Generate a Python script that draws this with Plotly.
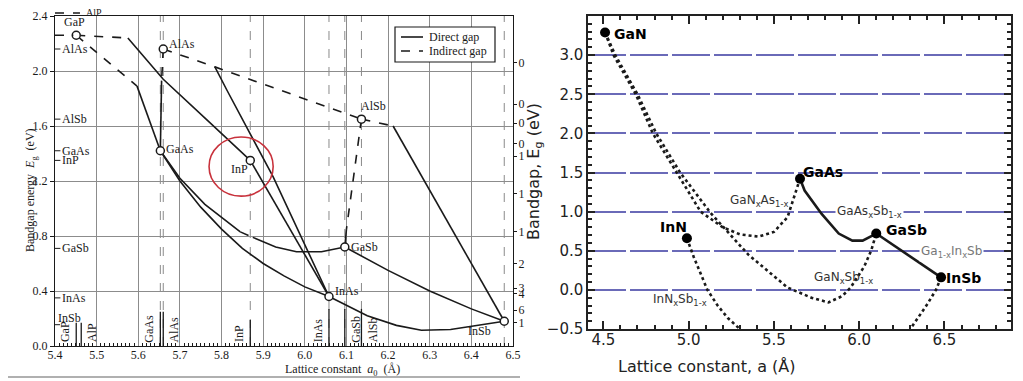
import plotly.graph_objects as go

# ---------------- data: left panel (III-V alloys) ----------------
mat_names = ["GaP", "AlAs", "GaAs", "InP", "AlSb", "GaSb", "InAs", "InSb"]
mat_a = [5.451, 5.660, 5.653, 5.869, 6.136, 6.096, 6.058, 6.479]
mat_eg = [2.26, 2.16, 1.42, 1.35, 1.65, 0.72, 0.36, 0.18]
alp_a, alp_eg = 5.467, 2.422

# direct-gap (solid) branches
dir_gap_gaas = ([5.597, 5.653], [1.89, 1.42])
dir_gap_inp = ([5.575, 5.66, 5.77, 5.869], [2.24, 1.94, 1.63, 1.35])
dir_alas_gaas = ([5.656, 5.653], [1.93, 1.42])
dir_alas_inas = ([5.784, 5.813, 5.924, 6.058], [2.03, 1.86, 1.23, 0.36])
dir_alsb_insb = ([6.212, 6.479], [1.60, 0.18])
dir_inp_inas = ([5.869, 6.058], [1.35, 0.36])
dir_gaas_inas = ([5.653, 5.70, 5.75, 5.80, 5.85, 5.90, 5.95, 6.00, 6.058],
                 [1.42, 1.20, 1.01, 0.85, 0.71, 0.60, 0.51, 0.43, 0.36])
dir_gaas_gasb_1 = ([5.653, 5.70, 5.76, 5.845], [1.42, 1.22, 1.03, 0.83])
dir_gaas_gasb_2 = ([5.875, 5.93, 5.98, 6.04, 6.096], [0.79, 0.72, 0.685, 0.685, 0.72])
dir_alsb_gasb = ([6.100, 6.096], [0.85, 0.72])
dir_inas_insb = ([6.058, 6.15, 6.22, 6.28, 6.35, 6.42, 6.479], [0.36, 0.22, 0.15, 0.115, 0.12, 0.15, 0.18])
dir_gasb_insb = ([6.096, 6.20, 6.30, 6.40, 6.479], [0.72, 0.55, 0.40, 0.27, 0.18])

# indirect-gap (dashed) branches
ind_gap_gaas = ([5.451, 5.597], [2.26, 1.89])
ind_gap_inp = ([5.451, 5.575], [2.26, 2.24])
ind_alas_gaas = ([5.660, 5.656], [2.16, 1.93])
ind_alas_alsb = ([5.660, 5.784, 6.136], [2.16, 2.03, 1.65])
ind_alsb_insb = ([6.136, 6.212], [1.65, 1.60])
ind_alsb_gasb = ([6.136, 6.100], [1.65, 0.85])
ind_gaas_gasb = ([5.845, 5.875], [0.83, 0.79])

# bottom lattice-constant markers
lat_names = ["GaP", "AlP", "GaAs", "AlAs", "InP", "InAs", "GaSb", "AlSb"]
lat_a = [5.451, 5.463, 5.653, 5.660, 5.869, 6.058, 6.096, 6.136]
dashed_lat_a = [5.653, 5.660, 5.869, 6.058, 6.096, 6.136, 6.479]

# truncated right-hand (wavelength) axis labels
wl_eg = [2.06, 1.76, 1.62, 1.47, 1.38, 1.11, 0.83, 0.60, 0.42, 0.38, 0.26, 0.17]
wl_text = ["0", "0", "0", "0", "1", "1", "1", "2", "3", "4", "6", "1"]

# legend entries
legend_names = ["Direct gap", "Indirect gap"]
legend_dash = ["solid", "dash"]

# ---------------- data: right panel (dilute nitrides) ----------------
r_names = ["GaN", "GaAs", "InN", "GaSb", "InSb"]
r_a = [4.51, 5.653, 4.99, 6.10, 6.48]
r_eg = [3.29, 1.42, 0.66, 0.72, 0.16]

ganas = ([4.51, 4.56, 4.69, 4.79, 4.93, 5.07, 5.20, 5.30, 5.41, 5.50, 5.58, 5.653],
         [3.29, 3.00, 2.50, 2.00, 1.50, 1.00, 0.80, 0.71, 0.68, 0.74, 0.93, 1.42])
gansb = ([4.51, 4.57, 4.70, 4.81, 4.95, 5.13, 5.35, 5.58, 5.72, 5.82, 5.90, 5.95, 6.03, 6.07, 6.10],
         [3.29, 3.00, 2.50, 2.00, 1.50, 0.98, 0.45, 0.03, -0.10, -0.16, -0.08, 0.03, 0.30, 0.50, 0.72])
gaassb = ([5.653, 5.68, 5.78, 5.88, 5.96, 6.02, 6.10], [1.42, 1.27, 0.97, 0.72, 0.63, 0.63, 0.72])
gainsb = ([6.10, 6.18, 6.26, 6.36, 6.48], [0.72, 0.60, 0.48, 0.33, 0.16])
innsb_1 = ([4.99, 5.03, 5.11, 5.17, 5.23, 5.30], [0.66, 0.42, 0.00, -0.20, -0.36, -0.50])
innsb_2 = ([6.48, 6.45, 6.40, 6.35, 6.30], [0.16, 0.00, -0.18, -0.34, -0.50])

# ---------------- layout geometry (screen pixels) ----------------
OFF = 8                       # page body margin of the browser
W, H = 1023 - OFF, 381 - OFF
LX0, LX1, LY0, LY1 = 55, 513, 16, 346
RX0, RX1, RY0, RY1 = 588, 1011, 16, 329
LXR, LYR = [5.4, 6.5], [0.0, 2.4]
RXR, RYR = [4.41, 6.89], [-0.5, 3.5]


def px(p):
    return (p - OFF) / W


def py(p):
    return 1 - (p - OFF) / H


def lpx(a):  # left panel data -> paper
    return px(LX0 + (a - LXR[0]) / (LXR[1] - LXR[0]) * (LX1 - LX0))


def lpy(e):
    return py(LY1 - (e - LYR[0]) / (LYR[1] - LYR[0]) * (LY1 - LY0))


SERIF = "Liberation Serif"
SANS = "DejaVu Sans"
INK = "#1a1a1a"

fig = go.Figure()


def seg(xy, dash, axes=("x", "y"), width=1.6):
    fig.add_trace(go.Scatter(x=xy[0], y=xy[1], mode="lines", xaxis=axes[0], yaxis=axes[1],
                             line=dict(color=INK, width=width, dash=dash),
                             showlegend=False, hoverinfo="skip"))


for s in [dir_gap_gaas, dir_gap_inp, dir_alas_gaas, dir_alas_inas, dir_alsb_insb, dir_inp_inas,
          dir_gaas_inas, dir_gaas_gasb_1, dir_gaas_gasb_2, dir_alsb_gasb, dir_inas_insb, dir_gasb_insb]:
    seg(s, "solid")
for s in [ind_gap_gaas, ind_gap_inp, ind_alas_gaas, ind_alas_alsb, ind_alsb_insb, ind_alsb_gasb,
          ind_gaas_gasb]:
    seg(s, "dash")

# material points (open circles)
fig.add_trace(go.Scatter(x=mat_a, y=mat_eg, mode="markers", showlegend=False, hoverinfo="skip",
                         marker=dict(size=8, color="white", line=dict(color=INK, width=1.5)),
                         cliponaxis=False))
fig.add_trace(go.Scatter(x=[alp_a], y=[alp_eg], mode="markers", showlegend=False, hoverinfo="skip",
                         marker=dict(size=6, color="white", line=dict(color=INK, width=1.4)),
                         cliponaxis=False))
# dummy trace for the right-hand truncated axis
fig.add_trace(go.Scatter(x=[5.5], y=[1.0], mode="markers", yaxis="y3", showlegend=False,
                         marker=dict(size=1, opacity=0), hoverinfo="skip"))

# right panel curves
for s in [ganas, gansb, innsb_1, innsb_2]:
    seg(s, "dot", ("x2", "y2"), width=2.6)
for s in [gaassb, gainsb]:
    seg(s, "solid", ("x2", "y2"), width=2.6)
fig.add_trace(go.Scatter(x=r_a, y=r_eg, mode="markers", xaxis="x2", yaxis="y2", showlegend=False,
                         hoverinfo="skip", marker=dict(size=10, color="black")))

shapes = []
ann = []

# left: dashed vertical lines at lattice constants
for a in dashed_lat_a:
    shapes.append(dict(type="line", xref="x", yref="y", x0=a, x1=a, y0=0, y1=2.4,
                       line=dict(color="#8a8a8a", width=1, dash="dash"), layer="below"))
# left: bottom labels with short solid bars
lat_bar_top = [0.17, 0.17, 0.25, 0.25, 0.19, 0.27, 0.27, 0.27]
lat_side = [-1, 1, -1, 1, -1, -1, 1, 1]
for n, a, t, sd in zip(lat_names, lat_a, lat_bar_top, lat_side):
    shapes.append(dict(type="line", xref="x", yref="y", x0=a, x1=a, y0=0, y1=t,
                       line=dict(color=INK, width=1.3)))
    ann.append(dict(x=a, y=0.012, xref="x", yref="y", text=n, textangle=-90, showarrow=False,
                    xanchor="right" if sd < 0 else "left", yanchor="bottom", xshift=2 * sd,
                    font=dict(family=SERIF, size=12, color=INK)))
# InSb label at bottom-left
ann.append(dict(x=5.403, y=0.14, xref="x", yref="y", text="InSb", showarrow=False, xanchor="left",
                yanchor="bottom", font=dict(family=SERIF, size=12, color=INK)))
shapes.append(dict(type="line", xref="x", yref="y", x0=5.4, x1=5.412, y0=0.155, y1=0.155,
                   line=dict(color=INK, width=1)))

# left-axis inner material labels
axis_lab = ["AlAs", "AlSb", "GaAs", "InP", "GaSb", "InAs"]
axis_eg = [2.16, 1.65, 1.42, 1.35, 0.71, 0.35]
for n, e in zip(axis_lab, axis_eg):
    shapes.append(dict(type="line", xref="x", yref="y", x0=5.4, x1=5.413, y0=e, y1=e,
                       line=dict(color=INK, width=1)))
    ann.append(dict(x=5.413, y=e, xref="x", yref="y", text=n, showarrow=False, xanchor="left",
                    yanchor="middle", font=dict(family=SERIF, size=12, color=INK)))
shapes.append(dict(type="line", xref="x", yref="y", x0=5.4, x1=5.444, y0=2.26, y1=2.26,
                   line=dict(color=INK, width=1.4, dash="dash")))
# AlP just above the top of the frame
shapes.append(dict(type="line", xref="paper", yref="paper", x0=lpx(5.4), x1=lpx(5.460),
                   y0=lpy(alp_eg), y1=lpy(alp_eg), line=dict(color=INK, width=1.4, dash="dash")))
ann.append(dict(x=lpx(5.472), y=lpy(alp_eg), xref="paper", yref="paper", text="AlP", showarrow=False,
                xanchor="left", yanchor="middle", borderpad=0,
                font=dict(family=SERIF, size=10, color=INK)))

# point labels
pt_lab = ["GaP", "AlAs", "GaAs", "InP", "AlSb", "GaSb", "InAs", "InSb"]
pt_a = [5.448, 5.668, 5.662, 5.842, 6.164, 6.105, 6.067, 6.42]
pt_e = [2.355, 2.20, 1.43, 1.29, 1.745, 0.72, 0.40, 0.11]
pt_xa = ["center", "left", "left", "center", "center", "left", "left", "center"]
for n, a, e, xa in zip(pt_lab, pt_a, pt_e, pt_xa):
    ann.append(dict(x=a, y=e, xref="x", yref="y", text=n, showarrow=False, xanchor=xa,
                    yanchor="middle", font=dict(family=SERIF, size=12, color=INK)))

# legend box drawn with shapes + text
shapes.append(dict(type="rect", xref="paper", yref="paper", x0=px(395), x1=px(495), y0=py(62),
                   y1=py(27), fillcolor="white", line=dict(color=INK, width=1.2)))
for i, (n, d) in enumerate(zip(legend_names, legend_dash)):
    yy = 37 + 14 * i
    shapes.append(dict(type="line", xref="paper", yref="paper", x0=px(401), x1=px(423),
                       y0=py(yy), y1=py(yy), line=dict(color=INK, width=1.6, dash=d)))
    ann.append(dict(x=px(427), y=py(yy), xref="paper", yref="paper", text=n, showarrow=False,
                    xanchor="left", yanchor="middle", font=dict(family=SERIF, size=12, color=INK)))

# red highlight circle
shapes.append(dict(type="circle", xref="x", yref="y", x0=5.770, x1=5.924, y0=1.09, y1=1.52,
                   line=dict(color="#c8323c", width=1.6)))

# left axis titles
ann.append(dict(x=px(283), y=py(360), xref="paper", yref="paper", yanchor="top",
                text="Lattice constant  <i>a</i><sub>0</sub>  (Å)", showarrow=False,
                font=dict(family=SERIF, size=12, color=INK)))
ann.append(dict(x=px(21), y=py(190), xref="paper", yref="paper", textangle=-90,
                text="Bandgap energy  <i>E</i><sub>g</sub>  (eV)", showarrow=False,
                font=dict(family=SERIF, size=12, color=INK)))
# bottom border of the left picture
shapes.append(dict(type="line", xref="paper", yref="paper", x0=px(OFF), x1=px(520), y0=py(377),
                   y1=py(377), line=dict(color="#b0b0b0", width=2)))

# right panel labels
big_lab = ["GaN", "GaAs", "InN", "GaSb", "InSb"]
big_a = [4.66, 5.79, 4.91, 6.28, 6.61]
big_e = [3.27, 1.51, 0.80, 0.76, 0.15]
for n, a, e in zip(big_lab, big_a, big_e):
    ann.append(dict(x=a, y=e, xref="x2", yref="y2", text="<b>%s</b>" % n, showarrow=False,
                    font=dict(family=SANS, size=14, color="black")))
alloy_lab = ["GaN<sub>x</sub>As<sub>1-x</sub>", "GaAs<sub>x</sub>Sb<sub>1-x</sub>",
             "Ga<sub>1-x</sub>In<sub>x</sub>Sb", "GaN<sub>x</sub>Sb<sub>1-x</sub>",
             "InN<sub>x</sub>Sb<sub>1-x</sub>"]
alloy_a = [5.41, 6.06, 6.54, 5.91, 4.95]
alloy_e = [1.14, 0.99, 0.49, 0.15, -0.13]
alloy_col = ["#333333", "#333333", "#777777", "#333333", "#333333"]
alloy_bg = [None, "white", "white", None, None]
for n, a, e, c, bg in zip(alloy_lab, alloy_a, alloy_e, alloy_col, alloy_bg):
    d = dict(x=a, y=e, xref="x2", yref="y2", text=n, showarrow=False,
             font=dict(family=SANS, size=12, color=c))
    if bg:
        d["bgcolor"] = bg
    ann.append(d)
ann.append(dict(x=px(797), y=py(355), xref="paper", yref="paper", yanchor="top",
                text="Lattice constant, a (Å)", showarrow=False,
                font=dict(family=SANS, size=16, color="#222")))
ann.append(dict(x=px(534), y=py(172), xref="paper", yref="paper", textangle=-90,
                text="Bandgap, E<sub>g</sub> (eV)", showarrow=False,
                font=dict(family=SANS, size=16, color="#222")))

fig.update_layout(
    template="none",
    width=W, height=H, margin=dict(l=0, r=0, t=0, b=0, pad=0, autoexpand=False),
    plot_bgcolor="white", paper_bgcolor="white",
    shapes=shapes, annotations=ann,
    showlegend=False,
    xaxis=dict(domain=[px(LX0), px(LX1)], range=LXR, anchor="y", tickmode="linear", tick0=5.4,
               dtick=0.1, tickformat=".1f", showgrid=True, gridcolor="#8c8c8c", gridwidth=1,
               showline=True, linecolor=INK, linewidth=1.2, mirror=True, ticks="",
               automargin=False, ticklabelstandoff=-3,
               tickfont=dict(family=SERIF, size=12, color=INK), zeroline=False,
               minor=dict(dtick=0.01, ticks="inside", ticklen=3, tickcolor=INK, showgrid=False)),
    yaxis=dict(domain=[py(LY1), py(LY0)], range=LYR, anchor="x", tickmode="linear", tick0=0,
               dtick=0.4, tickformat=".1f", showgrid=True, gridcolor="#8c8c8c", gridwidth=1,
               showline=True, linecolor=INK, linewidth=1.2, mirror=True, ticks="outside",
               ticklen=4, tickcolor=INK, zeroline=False, automargin=False,
               tickfont=dict(family=SERIF, size=12, color=INK)),
    yaxis3=dict(overlaying="y", side="right", anchor="x", range=LYR, tickmode="array",
                tickvals=wl_eg, ticktext=wl_text, ticks="outside", ticklen=3, tickcolor=INK,
                showgrid=False, zeroline=False, showline=False, automargin=False,
                ticklabelstandoff=-1,
                tickfont=dict(family=SERIF, size=12, color=INK)),
    xaxis2=dict(domain=[px(RX0), px(RX1)], range=RXR, anchor="y2", tickmode="linear", tick0=4.5,
                dtick=0.5, tickformat=".1f", showgrid=False, showline=True, linecolor="#222",
                linewidth=1.5, mirror="allticks", ticks="inside", ticklen=8, tickwidth=1.5,
                tickcolor="#222", zeroline=False, automargin=False, ticklabelstandoff=-4,
                tickfont=dict(family=SANS, size=15, color="#222"),
                minor=dict(dtick=0.1, ticks="inside", ticklen=4, tickcolor="#222", showgrid=False)),
    yaxis2=dict(domain=[py(RY1), py(RY0)], range=RYR, anchor="x2", tickmode="linear", tick0=-0.5,
                dtick=0.5, tickformat=".1f", showgrid=True, gridcolor="#6a6ab8", gridwidth=1.5,
                griddash="38px,4px", showline=True, linecolor="#222", linewidth=1.5,
                mirror="allticks", ticks="inside", ticklen=7, tickwidth=1.5, tickcolor="#222",
                zeroline=False, automargin=False, tickfont=dict(family=SANS, size=15, color="#222"),
                minor=dict(dtick=0.1, ticks="inside", ticklen=4, tickcolor="#222", showgrid=False)),
)

fig.write_html("out.html")
